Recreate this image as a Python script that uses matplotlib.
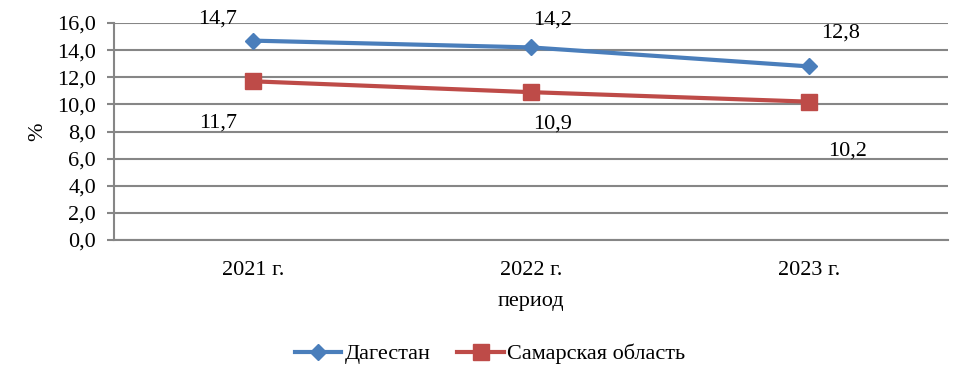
import matplotlib.pyplot as plt
from matplotlib import rcParams
from matplotlib.ticker import FuncFormatter

rcParams["font.family"] = "Liberation Serif"

years = ["2021 г.", "2022 г.", "2023 г."]
dagestan = [14.7, 14.2, 12.8]
samara = [11.7, 10.9, 10.2]

# label offsets in pixels (as in the source chart)
dag_offsets = [(-35, 22), (22, 27), (32, 33)]
sam_offsets = [(-35, -42), (22, -32), (39, -49)]

fig = plt.figure(figsize=(9.7, 3.84), dpi=100)
ax = fig.add_axes([114 / 970, 1 - 240 / 384, 834 / 970, 217 / 384])

x = list(range(len(years)))
ax.plot(x, dagestan, color="#4A7EBB", lw=3, marker="D", ms=8.5, label="Дагестан")
ax.plot(x, samara, color="#BE4B48", lw=3, marker="s", ms=11, label="Самарская область")

fs = 16
for xi, v, off in zip(x, dagestan, dag_offsets):
    ax.annotate(f"{v:.1f}".replace(".", ","), (xi, v), xytext=off,
                textcoords="offset pixels", ha="center", va="center", fontsize=fs)
for xi, v, off in zip(x, samara, sam_offsets):
    ax.annotate(f"{v:.1f}".replace(".", ","), (xi, v), xytext=off,
                textcoords="offset pixels", ha="center", va="center", fontsize=fs)

ax.set_xlim(-0.5, 2.5)
ax.set_ylim(0, 16)
ax.set_yticks(range(0, 17, 2))
ax.yaxis.set_major_formatter(FuncFormatter(lambda v, p: f"{v:.1f}".replace(".", ",")))
ax.set_xticks(x)
ax.set_xticklabels(years)
ax.tick_params(axis="y", labelsize=fs, length=5, width=1.5, color="#868686", pad=8)
ax.tick_params(axis="x", labelsize=fs, length=0, pad=15)

ax.grid(axis="y", color="#868686", lw=1.5)
ax.set_axisbelow(True)
for s in ["top", "right"]:
    ax.spines[s].set_visible(False)
for s in ["left", "bottom"]:
    ax.spines[s].set_color("#868686")
    ax.spines[s].set_linewidth(1.5)

ax.set_ylabel("%", fontsize=fs, labelpad=7)
ax.set_xlabel("период", fontsize=fs, labelpad=9)

fig.legend(loc="center", bbox_to_anchor=(490 / 970, 1 - 354 / 384), ncol=2,
           frameon=False, fontsize=fs, handlelength=2.1, columnspacing=1.2,
           handletextpad=0.15)

plt.savefig("out.png", dpi=100)
